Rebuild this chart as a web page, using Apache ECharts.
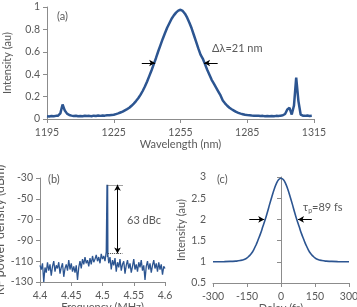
<!DOCTYPE html>
<html>
<head>
<meta charset="utf-8">
<script src="https://cdn.jsdelivr.net/npm/echarts@6/dist/echarts.min.js"></script>
<style>
  html, body { margin: 0; padding: 0; background: #fff; }
  #main { width: 357px; height: 307px; }
</style>
</head>
<body>
<div id="main"></div>
<script>
// (a) optical spectrum, 1 nm steps starting at 1195 nm
var specStart = 1195;
var spectrum = [
  0.025, 0.022, 0.027, 0.024, 0.028, 0.030, 0.050, 0.130, 0.075, 0.048,
  0.036, 0.030, 0.026, 0.029, 0.024, 0.027, 0.025, 0.029, 0.026, 0.028,
  0.025, 0.030, 0.027, 0.031, 0.028, 0.032, 0.030, 0.034, 0.033, 0.036,
  0.038, 0.044, 0.050, 0.058, 0.066, 0.077, 0.088, 0.100, 0.118, 0.138,
  0.160, 0.185, 0.215, 0.250, 0.290, 0.335, 0.385, 0.435, 0.490, 0.545,
  0.605, 0.660, 0.715, 0.765, 0.815, 0.855, 0.895, 0.925, 0.950, 0.968,
  0.975, 0.965, 0.940, 0.905, 0.860, 0.810, 0.750, 0.690, 0.630, 0.575,
  0.540, 0.490, 0.440, 0.395, 0.350, 0.315, 0.280, 0.245, 0.210, 0.165,
  0.140, 0.118, 0.100, 0.087, 0.075, 0.063, 0.055, 0.048, 0.043, 0.038,
  0.035, 0.033, 0.031, 0.030, 0.028, 0.029, 0.026, 0.028, 0.025, 0.027,
  0.024, 0.027, 0.025, 0.028, 0.026, 0.030, 0.033, 0.045, 0.085, 0.100,
  0.040, 0.120, 0.370, 0.160, 0.040, 0.030, 0.028, 0.031, 0.027, 0.029
];

// (b) RF spectrum, noise floor every 0.002 MHz from 4.4 MHz, plus the carrier
var rfStart = 4.4;
var rfStep = 0.002;
var rfNoise = [
  -114, -118, -112, -130, -116, -121, -111, -119, -113, -124,
  -115, -110, -120, -114, -117, -111, -122, -116, -112, -125,
  -117, -113, -119, -109, -118, -112, -120, -115, -121, -114,
  -128, -116, -110, -117, -108, -113, -106, -112, -109, -115,
  -107, -113, -105, -111, -108, -104, -110, -106, -112, -103,
  -108, -105, -110, -101, -106, -112, -106, -118, -109, -114,
  -107, -120, -111, -116, -108, -119, -113, -110, -122, -114,
  -109, -117, -112, -121, -115, -108, -118, -113, -120, -111,
  -116, -109, -119, -114, -128, -115, -110, -118, -112, -121,
  -114, -109, -117, -112, -120, -111, -118, -113, -123, -115,
  -117
];
var carrierFreq = [4.5068, 4.5072, 4.5082, 4.5086];
var carrierPower = [-100, -36.5, -36.5, -104];

// (c) autocorrelation trace
var delay = [-300, -250, -220, -200, -180, -160, -150, -140, -130, -120, -110, -100, -90, -80, -70, -60, -50, -40, -30, -20, -10,
             0, 10, 20, 30, 40, 50, 60, 70, 80, 90, 100, 110, 120, 130, 140, 150, 160, 180, 200, 220, 250, 300];
var acf = [1.0, 1.005, 1.01, 1.015, 1.03, 1.06, 1.09, 1.14, 1.20, 1.29, 1.40, 1.53, 1.67, 1.83, 1.99, 2.17, 2.36, 2.54, 2.71, 2.85, 2.94,
           2.97, 2.94, 2.85, 2.71, 2.54, 2.36, 2.17, 1.99, 1.83, 1.67, 1.53, 1.40, 1.29, 1.20, 1.14, 1.09, 1.06, 1.03, 1.015, 1.01, 1.005, 1.0];

var specData = spectrum.map(function (v, i) { return [specStart + i, v]; });
var rfData = rfNoise.map(function (v, i) { return [rfStart + i * rfStep, v]; });
carrierFreq.forEach(function (f, i) { rfData.push([f, carrierPower[i]]); });
rfData.sort(function (p, q) { return p[0] - q[0]; });
var acfData = delay.map(function (d, i) { return [d, acf[i]]; });

var FONT = 'Lato';
var TXT = '#595959';
var AX = '#8c8c8c';
var LINE = '#2c5591';

function xAxisOf(gi, min, max, interval, name, fmt) {
  return {
    type: 'value', gridIndex: gi, min: min, max: max, interval: interval,
    name: name, nameLocation: 'middle', nameGap: 19,
    nameTextStyle: { color: TXT, fontFamily: FONT, fontSize: 11 },
    axisLine: { lineStyle: { color: AX } },
    axisTick: { show: true, length: 4, lineStyle: { color: AX } },
    axisLabel: { color: TXT, fontFamily: FONT, fontSize: 10.5, margin: 8, formatter: fmt },
    splitLine: { show: false }
  };
}
function yAxisOf(gi, min, max, interval, name, gap, size, fmt) {
  return {
    type: 'value', gridIndex: gi, min: min, max: max, interval: interval,
    name: name, nameLocation: 'middle', nameGap: gap, nameRotate: 90,
    nameTextStyle: { color: TXT, fontFamily: FONT, fontSize: size },
    axisLine: { show: true, lineStyle: { color: AX } },
    axisTick: { show: true, length: 4, lineStyle: { color: AX } },
    axisLabel: { color: TXT, fontFamily: FONT, fontSize: 10.5, margin: 7, formatter: fmt },
    splitLine: { show: false }
  };
}
function trim(d) { return function (v) { return String(+v.toFixed(d)); }; }

var arrowStyle = { color: '#000', width: 1, type: 'solid' };

var myChart = echarts.init(document.getElementById('main'), null, { renderer: 'canvas' });
var option = {
  animation: false,
  grid: [
    { left: 47, top: 7, width: 267, height: 112, outerBoundsMode: 'none', containLabel: false },
    { left: 40, top: 178, width: 125, height: 104, outerBoundsMode: 'none', containLabel: false },
    { left: 213, top: 177, width: 136, height: 106, outerBoundsMode: 'none', containLabel: false }
  ],
  xAxis: [
    xAxisOf(0, 1195, 1315, 30, 'Wavelength (nm)', trim(0)),
    xAxisOf(1, 4.4, 4.6, 0.05, 'Frequency (MHz)', trim(2)),
    xAxisOf(2, -300, 300, 150, 'Delay (fs)', trim(0))
  ],
  yAxis: [
    yAxisOf(0, 0, 1, 0.2, 'Intensity (au)', 34, 11, trim(1)),
    yAxisOf(1, -130, -30, 20, 'RF power density (dBm)', 31, 12.5, trim(0)),
    yAxisOf(2, 0.5, 3, 0.5, 'Intensity (au)', 26, 11, trim(1))
  ],
  series: [
    {
      type: 'line', xAxisIndex: 0, yAxisIndex: 0, data: specData,
      symbol: 'none', lineStyle: { color: LINE, width: 2.5 },
      markLine: {
        silent: true, symbol: ['none', 'arrow'], symbolSize: [5, 6],
        label: { show: false }, lineStyle: arrowStyle,
        data: [
          [{ coord: [1237.6, 0.5] }, { coord: [1243.6, 0.5] }],
          [{ coord: [1271.7, 0.5] }, { coord: [1265.6, 0.5] }]
        ]
      }
    },
    {
      type: 'line', xAxisIndex: 1, yAxisIndex: 1, data: rfData,
      symbol: 'none', lineStyle: { color: LINE, width: 1.3 },
      markLine: {
        silent: true, symbol: ['none', 'none'],
        label: { show: false },
        data: [
          [{ coord: [4.508, -36.5], lineStyle: { color: '#444', type: 'dotted', width: 1 } },
           { coord: [4.532, -36.5] }],
          [{ coord: [4.509, -102.5], lineStyle: { color: '#444', type: 'dotted', width: 1 } },
           { coord: [4.532, -102.5] }],
          [{ coord: [4.524, -36.5], symbol: 'arrow', symbolSize: [5, 6], lineStyle: arrowStyle },
           { coord: [4.524, -102.5], symbol: 'arrow', symbolSize: [5, 6] }]
        ]
      }
    },
    {
      type: 'line', xAxisIndex: 2, yAxisIndex: 2, data: acfData, smooth: true,
      symbol: 'none', lineStyle: { color: LINE, width: 1.6 },
      markLine: {
        silent: true, symbol: ['none', 'arrow'], symbolSize: [5, 6],
        label: { show: false }, lineStyle: arrowStyle,
        data: [
          [{ coord: [-140, 2] }, { coord: [-74, 2] }],
          [{ coord: [136, 2] }, { coord: [75, 2] }]
        ]
      }
    }
  ],
  graphic: [
    { type: 'text', left: 57, top: 11, style: { text: '(a)', fill: TXT, font: '11px ' + FONT } },
    { type: 'text', left: 48, top: 174, style: { text: '(b)', fill: TXT, font: '11px ' + FONT } },
    { type: 'text', left: 217, top: 174, style: { text: '(c)', fill: TXT, font: '11px ' + FONT } },
    { type: 'text', left: 212, top: 43, style: { text: 'Δλ=21 nm', fill: TXT, font: '11px ' + FONT } },
    { type: 'text', left: 127, top: 215, style: { text: '63 dBc', fill: TXT, font: '11px ' + FONT } },
    {
      type: 'text', left: 303, top: 202,
      style: {
        text: '{t|τ}{s|p}{t|=89 fs}',
        rich: {
          t: { fill: TXT, fontFamily: FONT, fontSize: 11 },
          s: { fill: TXT, fontFamily: FONT, fontSize: 7, padding: [6, 0, 0, 0] }
        }
      }
    }
  ]
};
myChart.setOption(option);
</script>
</body>
</html>
